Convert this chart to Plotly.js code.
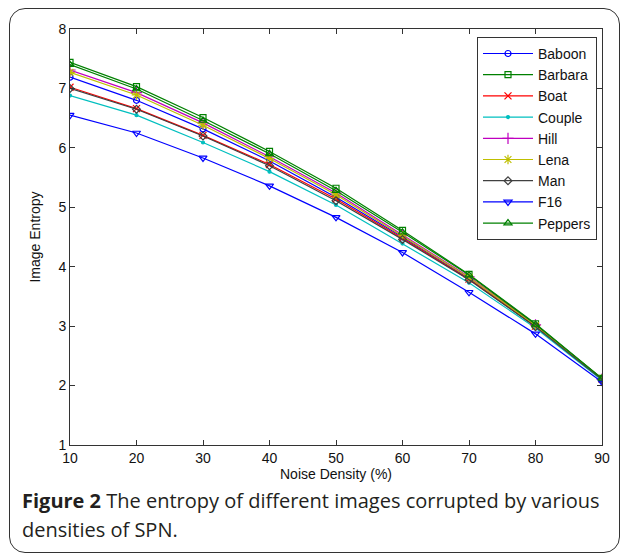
<!DOCTYPE html>
<html>
<head>
<meta charset="utf-8">
<script src="https://cdn.plot.ly/plotly-3.0.1.min.js"></script>
<style>
  html, body { margin: 0; padding: 0; background: #ffffff; }
  #wrap { position: relative; width: 627px; height: 557px; overflow: hidden; }
  #frame { position: absolute; left: 9px; top: 8px; width: 611px; height: 545px;
           border: 1.5px solid #333; border-radius: 16px; box-sizing: border-box; }
  #chart { position: absolute; left: 0; top: 0; width: 627px; height: 557px; }
</style>
</head>
<body>
<div id="wrap">
  <div id="frame"></div>
  <div id="chart"></div>
</div>
<script>
// Noise density (%)
const noiseDensity = [10, 20, 30, 40, 50, 60, 70, 80, 90];

// Image entropy per test image
const baboon  = [7.19, 6.80, 6.32, 5.78, 5.17, 4.50, 3.80, 3.00, 2.10];
const barbara = [7.44, 7.03, 6.51, 5.94, 5.32, 4.61, 3.87, 3.04, 2.12];
const boat    = [7.02, 6.66, 6.21, 5.72, 5.14, 4.48, 3.79, 3.00, 2.11];
const couple  = [6.88, 6.55, 6.09, 5.60, 5.04, 4.39, 3.73, 2.97, 2.09];
const hill    = [7.31, 6.93, 6.42, 5.85, 5.24, 4.54, 3.83, 3.02, 2.11];
const lena    = [7.27, 6.89, 6.38, 5.82, 5.21, 4.52, 3.82, 3.01, 2.11];
const man     = [7.00, 6.65, 6.20, 5.70, 5.11, 4.46, 3.78, 2.99, 2.10];
const f16     = [6.55, 6.25, 5.83, 5.36, 4.83, 4.24, 3.57, 2.87, 2.06];
const peppers = [7.40, 6.99, 6.46, 5.90, 5.28, 4.58, 3.86, 3.03, 2.12];

const seriesNames = ["Baboon", "Barbara", "Boat", "Couple", "Hill", "Lena", "Man", "F16", "Peppers"];
const seriesData  = [baboon, barbara, boat, couple, hill, lena, man, f16, peppers];
const colors  = ["#0000ff", "#008000", "#ff0000", "#00bfbf", "#bf00bf", "#bfbf00", "#404040", "#0000ff", "#008000"];
const symbols = ["circle-open", "square-open", "x-thin-open", "circle", "cross-thin-open",
                 "asterisk-open", "diamond-open", "triangle-down-open", "triangle-up-open"];
const sizes   = [6, 6, 7, 3, 8, 8, 6, 7, 7];

const captionLine1 = "<b>Figure 2</b> The entropy of different images corrupted by various";
const captionLine2 = "densities of SPN.";

const traces = seriesNames.map((name, i) => ({
  type: "scatter",
  mode: "lines+markers",
  name: name,
  x: noiseDensity,
  y: seriesData[i],
  line: { color: colors[i], width: 1.2 },
  marker: { symbol: symbols[i], color: colors[i], size: sizes[i], line: { color: colors[i], width: 1.2 } }
}));

const axisFont = { family: "Liberation Sans, Arial, sans-serif", size: 14, color: "#111" };
const capFont = { family: "Open Sans, Noto Sans, sans-serif", size: 20, color: "#231f20" };

const layout = {
  width: 627, height: 557,
  margin: { l: 70, r: 25, t: 29, b: 112 },
  paper_bgcolor: "rgba(0,0,0,0)",
  plot_bgcolor: "#ffffff",
  showlegend: true,
  legend: {
    x: 0.9906, y: 0.981, xanchor: "right", yanchor: "top",
    bgcolor: "#ffffff", bordercolor: "#333", borderwidth: 1,
    font: { family: "Liberation Sans, Arial, sans-serif", size: 14, color: "#111" },
    itemwidth: 50,
    tracegroupgap: 0
  },
  xaxis: {
    range: [10, 90], tick0: 10, dtick: 10,
    showgrid: false, zeroline: false,
    showline: true, linecolor: "#333", linewidth: 1, mirror: "allticks",
    ticks: "inside", ticklen: 5, tickcolor: "#333",
    tickfont: axisFont,
    title: { text: "Noise Density (%)", font: axisFont, standoff: 4 }
  },
  yaxis: {
    range: [1, 8], tick0: 1, dtick: 1,
    showgrid: false, zeroline: false,
    showline: true, linecolor: "#333", linewidth: 1, mirror: "allticks",
    ticks: "inside", ticklen: 5, tickcolor: "#333",
    tickfont: axisFont,
    title: { text: "Image Entropy", font: axisFont, standoff: 14 }
  },
  annotations: [
    { xref: "paper", yref: "paper", x: -0.094, y: -0.1346, xanchor: "left", yanchor: "middle",
      align: "left", showarrow: false, text: captionLine1, font: capFont },
    { xref: "paper", yref: "paper", x: -0.094, y: -0.204, xanchor: "left", yanchor: "middle",
      align: "left", showarrow: false, text: captionLine2, font: capFont }
  ]
};

Plotly.newPlot("chart", traces, layout, { displayModeBar: false, staticPlot: true });
</script>
</body>
</html>
